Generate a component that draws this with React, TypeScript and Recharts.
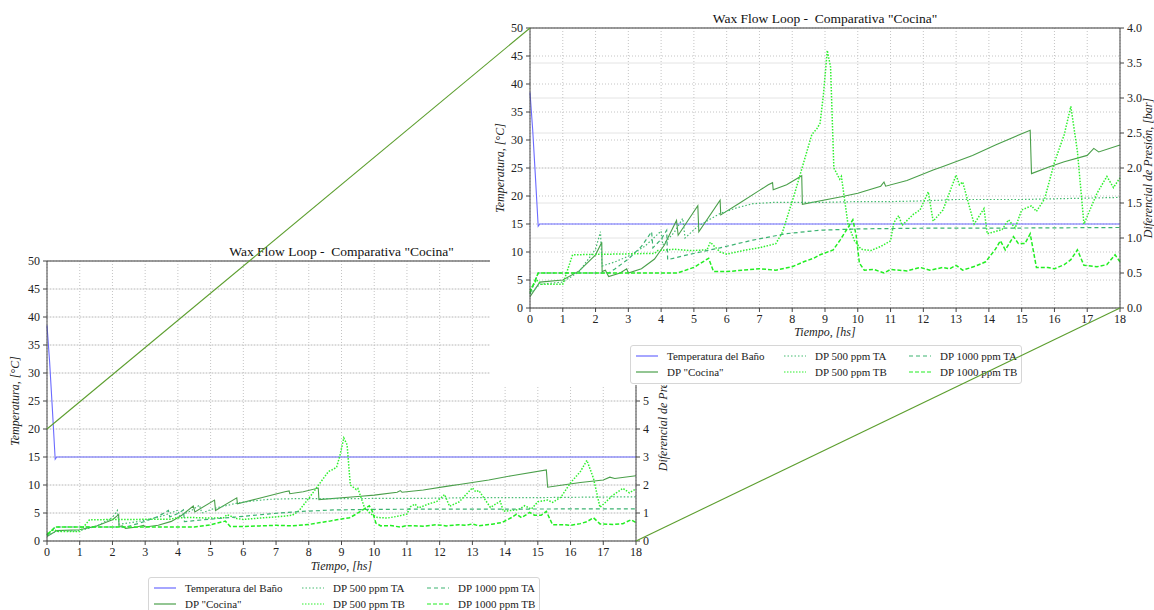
import React from "react"
import { ComposedChart, Line, XAxis, YAxis, CartesianGrid, ReferenceLine } from "recharts"

// tick labels
const hourTicks = [0, 1, 2, 3, 4, 5, 6, 7, 8, 9, 10, 11, 12, 13, 14, 15, 16, 17, 18]
const tempTicks = [0, 5, 10, 15, 20, 25, 30, 35, 40, 45, 50]
const barTicksBase = [0, 1, 2, 3, 4, 5, 6, 7, 8, 9, 10]
const barTicksInset = [0, 0.5, 1, 1.5, 2, 2.5, 3, 3.5, 4]

// Temperatura del Baño [°C]
const bathT = [0, 0.08, 0.16, 0.25, 0.3, 18]
const bathTemp = [38.5, 32, 24, 14.6, 15, 15]

// DP "Cocina" [bar]
const cocinaT = [0, 0.3, 1, 1.5, 2, 2.19, 2.2, 2.3, 2.4, 2.75, 2.95, 3.0, 3.4, 3.8, 4.1, 4.47, 4.52, 5.12, 5.15, 5.8, 5.82, 6.4, 7.0, 7.27, 7.4, 7.42, 7.83, 8.29, 8.31, 9.5, 10.0, 10.7, 10.8, 10.85, 11.5, 12.3, 12.6, 13.5, 14.2, 15.26, 15.3, 15.87, 16.3, 17.0, 17.2, 17.35, 18]
const cocinaDp = [0.16, 0.37, 0.4, 0.53, 0.76, 0.94, 0.52, 0.54, 0.45, 0.5, 0.56, 0.5, 0.56, 0.7, 0.9, 1.25, 1.04, 1.46, 1.09, 1.54, 1.33, 1.5, 1.68, 1.76, 1.79, 1.69, 1.76, 1.89, 1.48, 1.59, 1.64, 1.74, 1.8, 1.74, 1.82, 1.97, 2.02, 2.18, 2.33, 2.54, 1.92, 2.02, 2.09, 2.18, 2.28, 2.23, 2.33]

// DP 500 ppm TA [bar]
const ta500T = [0, 0.3, 1, 1.5, 2, 2.15, 2.2, 2.6, 3.0, 3.5, 4.0, 4.05, 4.4, 4.66, 4.73, 5.1, 5.5, 5.8, 6.3, 6.8, 7.5, 8.3, 9, 10, 11, 12, 13, 14, 15, 16, 17, 18]
const ta500Dp = [0.2, 0.34, 0.37, 0.52, 0.84, 1.09, 0.6, 0.66, 0.74, 0.88, 1.1, 0.9, 1.08, 1.28, 1.0, 1.16, 1.27, 1.35, 1.43, 1.49, 1.51, 1.51, 1.51, 1.52, 1.52, 1.53, 1.55, 1.55, 1.55, 1.56, 1.57, 1.58]

// DP 500 ppm TB [bar]
const tb500T = [0, 0.2, 0.35, 1.0, 1.3, 3.8, 3.9, 4.4, 4.9, 5.4, 5.5, 5.8, 6.0, 6.5, 7.0, 7.5, 7.7, 8.05, 8.3, 8.6, 8.75, 8.85, 8.95, 9.07, 9.17, 9.27, 9.45, 9.5, 9.7, 9.9, 10.1, 10.4, 10.7, 11.0, 11.1, 11.25, 11.35, 11.7, 11.9, 12.15, 12.3, 12.6, 13.0, 13.1, 13.2, 13.55, 13.85, 13.95, 14.4, 14.6, 14.8, 15.0, 15.3, 15.45, 15.7, 16.0, 16.3, 16.5, 16.7, 16.9, 17.3, 17.6, 17.8, 18]
const tb500Dp = [0.26, 0.4, 0.34, 0.34, 0.76, 0.78, 0.82, 0.84, 0.82, 0.83, 0.94, 0.8, 0.77, 0.82, 0.86, 0.92, 1.08, 1.6, 2.0, 2.48, 2.56, 2.64, 3.04, 3.68, 3.44, 2.0, 1.84, 1.88, 1.2, 0.96, 0.84, 0.82, 0.88, 0.96, 1.22, 1.32, 1.18, 1.34, 1.4, 1.66, 1.24, 1.4, 1.9, 1.76, 1.8, 1.2, 1.42, 1.06, 1.12, 1.26, 1.14, 1.4, 1.46, 1.38, 1.56, 2.08, 2.48, 2.88, 2.24, 1.2, 1.64, 1.88, 1.72, 1.86]

// DP 1000 ppm TA [bar]
const ta1000T = [0, 0.25, 2.4, 2.6, 3.0, 3.4, 3.71, 3.75, 4.0, 4.17, 4.2, 4.8, 5.8, 6.8, 7.8, 8.8, 10, 12, 14, 18]
const ta1000Dp = [0.2, 0.5, 0.5, 0.56, 0.7, 0.88, 1.09, 0.86, 0.98, 1.11, 0.69, 0.76, 0.86, 0.97, 1.06, 1.11, 1.13, 1.14, 1.14, 1.15]

// DP 1000 ppm TB [bar]
const tb1000T = [0, 0.25, 4.5, 5.0, 5.45, 5.6, 6.0, 6.5, 7.0, 7.5, 8.0, 8.35, 8.65, 8.85, 9.25, 9.46, 9.85, 9.95, 10.05, 10.2, 10.5, 10.8, 11.0, 11.5, 11.9, 12.2, 12.6, 12.8, 13.0, 13.2, 13.6, 13.9, 14.2, 14.35, 14.5, 14.75, 14.9, 15.1, 15.26, 15.45, 15.8, 16.0, 16.3, 16.5, 16.7, 16.9, 17.3, 17.6, 17.85, 18]
const tb1000Dp = [0.22, 0.5, 0.5, 0.58, 0.71, 0.52, 0.52, 0.54, 0.56, 0.54, 0.59, 0.66, 0.71, 0.76, 0.83, 0.97, 1.26, 1.04, 0.64, 0.54, 0.55, 0.5, 0.55, 0.53, 0.58, 0.54, 0.58, 0.56, 0.61, 0.54, 0.6, 0.66, 0.84, 0.96, 0.83, 1.02, 0.92, 0.92, 1.06, 0.58, 0.58, 0.56, 0.62, 0.69, 0.83, 0.61, 0.59, 0.62, 0.76, 0.66]

const rows = (t: number[], v: number[]) => t.map((x, i) => ({ t: x, v: v[i] }))

const series = [
  { name: "Temperatura del Baño", data: rows(bathT, bathTemp), axis: "left", color: "#6b6bff", dash: undefined, width: 1.1 },
  { name: 'DP "Cocina"', data: rows(cocinaT, cocinaDp), axis: "right", color: "#4a9f4a", dash: undefined, width: 1.1 },
  { name: "DP 500 ppm TA", data: rows(ta500T, ta500Dp), axis: "right", color: "#44bb70", dash: "1.5 2", width: 1.2 },
  { name: "DP 500 ppm TB", data: rows(tb500T, tb500Dp), axis: "right", color: "#2ef02e", dash: "1.5 1.5", width: 1.5 },
  { name: "DP 1000 ppm TA", data: rows(ta1000T, ta1000Dp), axis: "right", color: "#3cb371", dash: "4 3", width: 1.2 },
  { name: "DP 1000 ppm TB", data: rows(tb1000T, tb1000Dp), axis: "right", color: "#22ee22", dash: "4 2", width: 1.5 },
]

const BASE = { left: 0, top: 245, width: 700, height: 332, mTop: 16, leftW: 47, rightW: 64, xH: 36, xLab: 7, lLab: 15, rLab: 37, rightMax: 10, rightTicks: barTicksBase, fmt: (v: number) => String(v), bg: false }
const INSET = { left: 490, top: 0, width: 664, height: 338, mTop: 28, leftW: 40, rightW: 34, xH: 30, xLab: 2, lLab: 10, rLab: 6, rightMax: 4, rightTicks: barTicksInset, fmt: (v: number) => v.toFixed(1), bg: true }

type Panel = typeof BASE

const plotRect = (p: Panel) => ({
  x0: p.left + p.leftW,
  x1: p.left + p.width - p.rightW,
  y0: p.top + p.mTop,
  y1: p.top + p.height - p.xH,
})

const tickStyle = { fill: "#222", fontSize: 12 }
const axisStroke = "#444"

const WaxPanel = ({ p }: { p: Panel }) => (
  <ComposedChart width={p.width} height={p.height} margin={{ top: p.mTop, right: 0, bottom: 0, left: 0 }}>
    <CartesianGrid yAxisId="right" vertical={false} stroke="#e4e4e4" />
    <CartesianGrid yAxisId="left" stroke="#c4c4c4" strokeDasharray="1 2" />
    <XAxis
      type="number"
      dataKey="t"
      domain={[0, 18]}
      ticks={hourTicks}
      interval={0}
      height={p.xH}
      tick={tickStyle}
      tickSize={4}
      tickMargin={2}
      stroke={axisStroke}
      label={{ value: "Tiempo, [hs]", position: "insideBottom", offset: p.xLab, style: { fontStyle: "italic", fontSize: 12, fill: "#222" } }}
    />
    <YAxis
      yAxisId="left"
      orientation="left"
      domain={[0, 50]}
      ticks={tempTicks}
      interval={0}
      width={p.leftW}
      tick={tickStyle}
      tickSize={4}
      tickMargin={3}
      stroke={axisStroke}
      label={{ value: "Temperatura, [°C]", angle: -90, position: "insideLeft", offset: p.lLab, style: { textAnchor: "middle", fontStyle: "italic", fontSize: 12, fill: "#222" } }}
    />
    <YAxis
      yAxisId="right"
      orientation="right"
      domain={[0, p.rightMax]}
      ticks={p.rightTicks}
      interval={0}
      width={p.rightW}
      tick={tickStyle}
      tickFormatter={p.fmt}
      tickSize={4}
      tickMargin={3}
      stroke={axisStroke}
      label={{ value: "Diferencial de Presión, [bar]", angle: -90, position: "insideRight", offset: p.rLab, style: { textAnchor: "middle", fontStyle: "italic", fontSize: 12, fill: "#222" } }}
    />
    <ReferenceLine yAxisId="left" y={50} stroke={axisStroke} />
    {series.map((s) => (
      <Line
        key={s.name}
        yAxisId={s.axis}
        data={s.data}
        dataKey="v"
        type="linear"
        stroke={s.color}
        strokeWidth={s.width}
        strokeDasharray={s.dash}
        dot={false}
        isAnimationActive={false}
      />
    ))}
  </ComposedChart>
)

const legendCols = [5, 153, 278]

const LegendBox = ({ left, top }: { left: number; top: number }) => (
  <div
    style={{
      position: "absolute",
      left,
      top,
      width: 390,
      height: 37,
      border: "1px solid #d6d6d6",
      borderRadius: 3,
      background: "#fff",
      fontSize: 11,
      color: "#222",
    }}
  >
    {series.map((s, i) => (
      <div
        key={s.name}
        style={{
          position: "absolute",
          left: legendCols[Math.floor(i / 2)],
          top: 2 + (i % 2) * 16,
          height: 16,
          display: "flex",
          alignItems: "center",
          whiteSpace: "nowrap",
        }}
      >
        <svg width={22} height={4}>
          <line x1={0} y1={2} x2={22} y2={2} stroke={s.color} strokeWidth={1.2} strokeDasharray={s.dash} />
        </svg>
        <span style={{ marginLeft: 9 }}>{s.name}</span>
      </div>
    ))}
  </div>
)

const Title = ({ p }: { p: Panel }) => {
  const r = plotRect(p)
  return (
    <div style={{ position: "absolute", left: r.x0, width: r.x1 - r.x0, top: r.y0 - 17, textAlign: "center", fontSize: 13.5, color: "#111", whiteSpace: "pre" }}>
      {'Wax Flow Loop -  Comparativa "Cocina"'}
    </div>
  )
}

// zoom connector: region 0..18 h, 0..20 °C of the base chart to the inset corners
const toPx = (p: Panel, t: number, temp: number) => {
  const r = plotRect(p)
  return { x: r.x0 + (t / 18) * (r.x1 - r.x0), y: r.y1 - (temp / 50) * (r.y1 - r.y0) }
}

export default function App() {
  const a1 = toPx(BASE, 0, 20)
  const b1 = toPx(INSET, 0, 50)
  const a2 = toPx(BASE, 18, 0)
  const b2 = toPx(INSET, 18, 0)
  return (
    <div style={{ position: "absolute", left: 0, top: 0, width: 1154, height: 610, overflow: "hidden", background: "#fff", fontFamily: "'Liberation Serif', 'DejaVu Serif', serif" }}>
      <div style={{ position: "absolute", left: BASE.left, top: BASE.top }}>
        <WaxPanel p={BASE} />
      </div>
      <Title p={BASE} />
      <LegendBox left={148} top={577} />

      <div style={{ position: "absolute", left: INSET.left, top: 0, width: 664, height: 385, background: "#fff" }} />
      <div style={{ position: "absolute", left: INSET.left, top: INSET.top }}>
        <WaxPanel p={INSET} />
      </div>
      <Title p={INSET} />
      <LegendBox left={630} top={345} />

      <svg width={1154} height={610} style={{ position: "absolute", left: 0, top: 0, pointerEvents: "none" }}>
        <line x1={a1.x} y1={a1.y} x2={b1.x} y2={b1.y} stroke="#5c9e2e" strokeWidth={1.1} />
        <line x1={a2.x} y1={a2.y} x2={b2.x} y2={b2.y} stroke="#5c9e2e" strokeWidth={1.1} />
      </svg>
    </div>
  )
}
